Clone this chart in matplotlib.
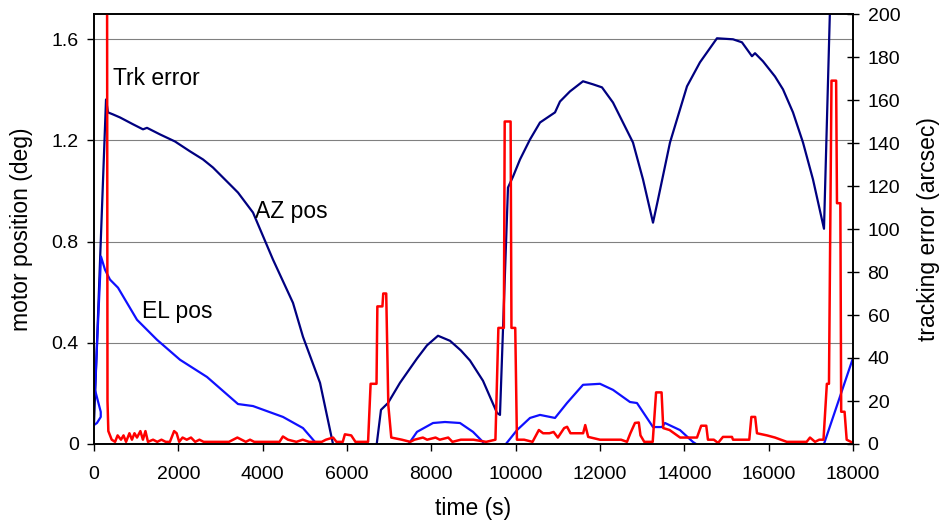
import numpy as np
import matplotlib
matplotlib.use("Agg")
import matplotlib.pyplot as plt

plt.rcParams['font.family'] = ['Liberation Sans', 'DejaVu Sans']

nan = np.nan

# AZ motor position (deg), NaN where the trace drops below the axis
az_t = [0, 285, 332, 451, 617, 925, 1162, 1257, 1565, 1921, 2277, 2585, 2822,
        3296, 3415, 3771, 4245, 4719, 4956, 5360, 5668, 5720, nan,
        6690, 6806, 6972, 7257, 7500, 7660, 7897, 8158, 8443, 8700, 8917, 9225,
        9557, 9628,
        9818, 9937, 10103, 10340, 10577, 10933, 11051, 11288, 11597, 11834,
        12047, 12308, 12782, 13020, 13257, 13375, 13660, 14063, 14371, 14774,
        15154, 15367, 15604, 15676, 15865, 16150, 16340, 16577, 16814, 17051,
        17312, 17454, 17550]
az_pos = [0.08, 1.362, 1.311, 1.303, 1.291, 1.264, 1.244, 1.25, 1.224, 1.196,
          1.157, 1.125, 1.093, 1.014, 0.994, 0.915, 0.729, 0.558, 0.424, 0.242,
          0.0, -0.02, nan,
          -0.02, 0.135, 0.162, 0.242, 0.300, 0.338, 0.390, 0.428, 0.408, 0.370,
          0.330, 0.250, 0.123, 0.115, 1.014, 1.057, 1.125, 1.204, 1.271, 1.311,
          1.354, 1.394, 1.434, 1.422, 1.41, 1.35, 1.192, 1.046, 0.875, 0.966,
          1.192, 1.414, 1.509, 1.604, 1.6, 1.588, 1.533, 1.545, 1.513, 1.453,
          1.402, 1.311, 1.192, 1.046, 0.851, 1.72, 2.0]

# EL motor position (deg)
el_t = [0, 70, 160, 160, 24, 166, 261, 379, 569, 1020, 1494, 2040, 2680, 3415,
        3771, 4482, 4956, 5241, 5300, nan,
        7420, 7660, 8040, 8324, 8680, 8988, 9225, 9260, nan,
        9720, 10032, 10340, 10577, 10933, 11217, 11597, 12000, 12308, 12711,
        12877, 13257, 13470, 13541, 13897, 14205, 14371, nan,
        17312, 18000]
el_pos = [0.075, 0.083, 0.107, 0.127, 0.214, 0.741, 0.689, 0.65, 0.618, 0.491,
          0.412, 0.333, 0.265, 0.158, 0.15, 0.107, 0.063, 0.008, -0.01, nan,
          -0.01, 0.048, 0.083, 0.087, 0.083, 0.048, 0.008, -0.01, nan,
          -0.01, 0.055, 0.103, 0.115, 0.103, 0.162, 0.234, 0.238, 0.214, 0.166,
          0.162, 0.067, 0.067, 0.083, 0.055, 0.008, -0.01, nan,
          0.0, 0.34]

# tracking error (arcsec)
trk_t = [0, 290, 320, 340, 420, 500, 560, 640, 700, 760, 840, 900, 960, 1020,
         1100, 1160, 1220, 1280, 1400, 1500, 1600, 1700, 1800, 1900, 1960, 2020,
         2100, 2200, 2300, 2400, 2500, 2600, 2800, 3000, 3200, 3400, 3500, 3600,
         3700, 3800, 4000, 4200, 4400, 4480, 4600, 4800, 4950, 5100, 5400, 5500,
         5670, 5750, 5900, 5950, 6100, 6200, 6500, 6560, 6700, 6720, 6840, 6860,
         6930, 6980, 7050, 7300, 7500, 7600, 7800, 7900, 8100, 8200, 8400, 8500,
         8700, 9000, 9300, 9520, 9590, 9720, 9740, 9880, 9900, 9990, 10030,
         10200, 10400, 10550, 10650, 10800, 10900, 11000, 11150, 11220, 11300,
         11600, 11650, 11720, 12000, 12500, 12640, 12720, 12830, 12920, 12960,
         13050, 13250, 13330, 13460, 13500, 13650, 13900, 14200, 14300, 14400,
         14520, 14560, 14700, 14800, 14916, 15130, 15154, 15540, 15590, 15680,
         15723, 15960, 16150, 16430, 16900, 16980, 17100, 17200, 17300, 17380,
         17430, 17490, 17600, 17620, 17700, 17720, 17800, 17850, 17950, 18000]
trk_err = [600, 600, 20, 6, 2, 1, 4, 2, 4, 1, 5, 2, 5, 3, 6, 2, 6, 1, 2, 1, 2,
           1, 1, 6, 5, 1, 3, 2, 3, 1, 2, 1, 1, 1, 1, 3, 2, 1, 2, 1, 1, 1, 1,
           3.5, 2, 1, 2, 1, 1, 2, 3, 1, 1, 4.5, 4, 1, 1, 28, 28, 64, 64, 70, 70,
           18, 3, 2, 1, 2, 3, 2, 3, 2, 3, 1, 2, 2, 1, 2, 54, 54, 150, 150, 54,
           54, 2, 2, 1, 6.5, 5, 5, 5.6, 3, 7.4, 8, 5, 5, 8.8, 3.3, 2, 2, 1, 5,
           9.8, 10, 4, 1, 1, 24, 24, 7.4, 6.5, 3, 3, 3, 8.5, 8.5, 2, 2, 0.5,
           3.3, 3.3, 2, 2, 12.6, 12.6, 5, 4, 3, 1, 1, 3, 1, 2, 2, 28, 28, 169,
           169, 112, 112, 15, 15, 2, 1, 0.5]

left_ticks = [0, 0.4, 0.8, 1.2, 1.6]
left_labels = ['0', '0.4', '0.8', '1.2', '1.6']
right_ticks = list(range(0, 201, 20))
x_ticks = list(range(0, 18001, 2000))

fig = plt.figure(figsize=(9.41, 5.21), dpi=100)
ax = fig.add_axes([94 / 941, 1 - 444 / 521, (853 - 94) / 941, (444 - 14) / 521])
ax2 = ax.twinx()

ax.plot(az_t, az_pos, color='#000080', lw=1.6)
ax.plot(el_t, el_pos, color='#1010ff', lw=1.6)
ax2.plot(trk_t, trk_err, color='#ff0000', lw=1.8)

ax.set_xlim(0, 18000)
ax.set_ylim(0, 1.7)
ax2.set_ylim(0, 200)

ax.set_xticks(x_ticks)
ax.set_yticks(left_ticks)
ax.set_yticklabels(left_labels)
ax2.set_yticks(right_ticks)

ax.grid(axis='y', color='#808080', lw=0.8)
ax.set_axisbelow(True)

fs = 14
lfs = 16.5
ax.tick_params(axis='x', direction='out', length=5, width=1, pad=11, labelsize=fs)
ax.tick_params(axis='y', direction='out', length=5, width=1, pad=6, labelsize=fs)
ax2.tick_params(axis='y', direction='inout', length=9, width=1, pad=6, labelsize=fs)
for a in (ax, ax2):
    for s in a.spines.values():
        s.set_linewidth(1.2)
        s.set_color('black')

ax.set_xlabel('time (s)', fontsize=lfs, labelpad=10)
ax.set_ylabel('motor position (deg)', fontsize=lfs, labelpad=13)
ax2.set_ylabel('tracking error (arcsec)', fontsize=lfs, labelpad=12)

ax.text(450, 1.42, 'Trk error', fontsize=lfs)
ax.text(3818, 0.895, 'AZ pos', fontsize=lfs)
ax.text(1138, 0.50, 'EL pos', fontsize=lfs)

fig.savefig('out.png', dpi=100)
